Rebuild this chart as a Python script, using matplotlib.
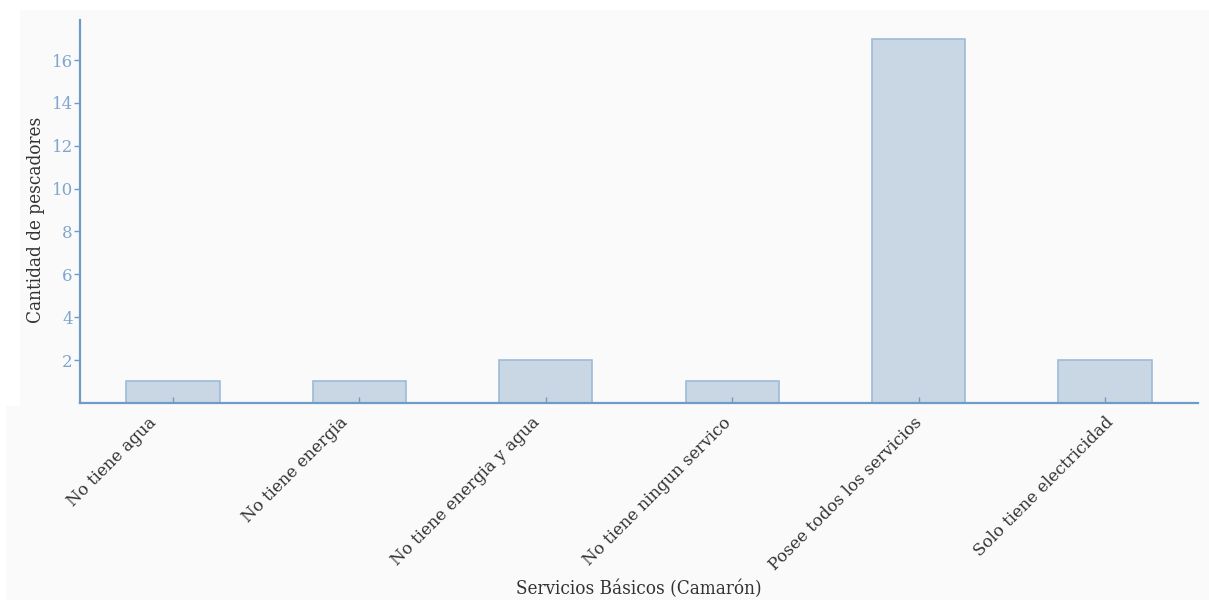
import matplotlib
matplotlib.use("Agg")
import matplotlib.pyplot as plt
import matplotlib.transforms as mtransforms
from matplotlib.patches import Rectangle

# -----------------------------
# DATA
# -----------------------------
categorias = [
    "No tiene agua",
    "No tiene energia",
    "No tiene energia y agua",
    "No tiene ningun servico",
    "Posee todos los servicios",
    "Solo tiene electricidad",
]
cantidad = [1, 1, 2, 1, 17, 2]
yticks = [2, 4, 6, 8, 10, 12, 14, 16]

# -----------------------------
# STYLE
# -----------------------------
plt.rcParams["font.family"] = ["DejaVu Serif"]
fondo = "#fafafa"
azul = "#6f9bc8"

fig = plt.figure(figsize=(12.09, 6.0), dpi=100, facecolor="white")
# two grey panels behind the chart (screenshot look)
fig.patches.append(Rectangle((0.0165, 0.3233), 0.99, 0.66, transform=fig.transFigure,
                             facecolor=fondo, edgecolor="none", zorder=-10))
fig.patches.append(Rectangle((0.005, 0.0), 0.995, 0.3233, transform=fig.transFigure,
                             facecolor=fondo, edgecolor="none", zorder=-10))

ax = fig.add_axes([0.066, 0.3285, 0.925, 0.6375], facecolor=fondo)

x = list(range(len(categorias)))
ax.bar(x, cantidad, width=0.5, color="#c9d7e5", edgecolor="#9dbbd8", linewidth=1.2)

ax.set_xlim(-0.5, len(categorias) - 0.5)
ax.set_ylim(0, 17.85)
ax.set_xticks(x)
ax.set_xticklabels(categorias, rotation=45, ha="right", rotation_mode="anchor",
                   fontsize=12, color="#333333")
ax.set_yticks(yticks)
ax.set_yticklabels([str(v) for v in yticks], fontsize=12, color="#7ea6cf")

ax.tick_params(axis="x", direction="in", color=azul, length=4, width=1, pad=8)
ax.tick_params(axis="y", direction="out", color=azul, length=4, width=1, pad=1)

# lower label strip is slightly wider than the bars in the reference
n = len(categorias)
for i, lab in enumerate(ax.get_xticklabels()):
    dx = (i - (n - 1)) * 5 / 100.0
    lab.set_transform(lab.get_transform() +
                      mtransforms.ScaledTranslation(dx, 0, fig.dpi_scale_trans))

for s in ["top", "right"]:
    ax.spines[s].set_visible(False)
for s in ["left", "bottom"]:
    ax.spines[s].set_color(azul)
    ax.spines[s].set_linewidth(1.6)

ax.set_xlabel("Servicios Básicos (Camarón)", fontsize=13.5, color="#333333",
              fontstretch="condensed", labelpad=4)
ax.set_ylabel("Cantidad de pescadores", fontsize=13.5, color="#333333",
              fontstretch="condensed")
ax.yaxis.set_label_coords(-0.031, 0.478)

fig.savefig("out.png", dpi=100, facecolor="white")
